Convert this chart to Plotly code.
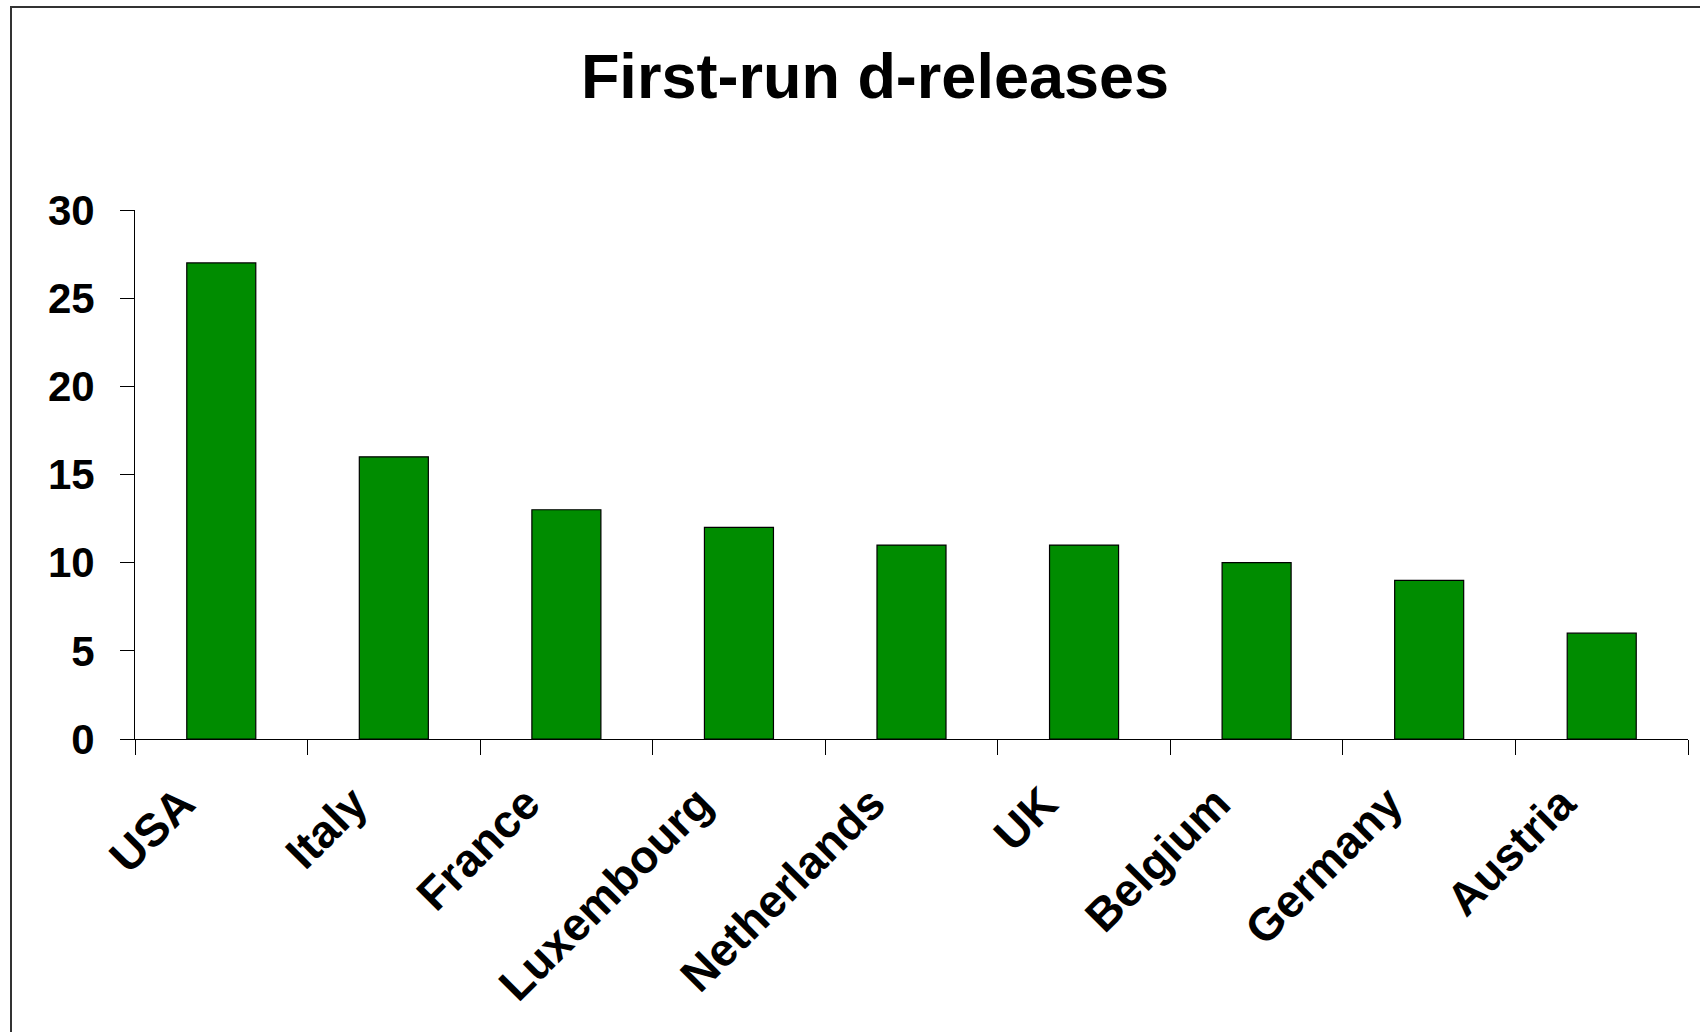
import plotly.graph_objects as go

categories = ["USA", "Italy", "France", "Luxembourg", "Netherlands", "UK", "Belgium", "Germany", "Austria"]
values = [27, 16, 13, 12, 11, 11, 10, 9, 6]
y_ticks = [0, 5, 10, 15, 20, 25, 30]
title_text = "First-run d-releases"

FONT = "Liberation Sans, Arial, sans-serif"

W, H = 1700, 1032
L, R, T, B = 135, 12, 210, 293
pw, ph = W - L - R, H - T - B

def px_x(x):
    return (x - L) / pw

def px_y(y):
    return (H - B - y) / ph

fig = go.Figure(go.Bar(
    x=categories, y=values,
    marker=dict(color="#008C00", line=dict(color="#000000", width=1.2)),
))

fig.update_layout(
    width=W, height=H,
    margin=dict(l=L, r=R, t=T, b=B),
    paper_bgcolor="white", plot_bgcolor="white",
    bargap=0.6,
    showlegend=False,
    title=dict(text="<b>" + title_text + "</b>", x=875 / W, xanchor="center",
               y=1 - 76 / H, yanchor="middle",
               font=dict(family=FONT, size=63, color="black")),
    font=dict(family=FONT, color="black"),
    shapes=[dict(type="rect", xref="paper", yref="paper",
                 x0=px_x(11), x1=px_x(1705), y0=px_y(1040), y1=px_y(7),
                 line=dict(color="#333333", width=2), fillcolor="rgba(0,0,0,0)", layer="below")],
)

fig.update_xaxes(
    type="category", range=[-0.5, len(categories) - 0.5],
    showline=True, linecolor="black", linewidth=1,
    ticks="outside", ticklen=15, tickcolor="black", tickwidth=1,
    tickson="boundaries", tickangle=-45,
    tickfont=dict(family=FONT, size=46, color="black", weight="bold"),
    ticklabelshift=-40, ticklabelstandoff=18,
    showgrid=False, zeroline=False,
)
fig.update_yaxes(
    range=[0, 30], tickvals=y_ticks,
    showline=True, linecolor="black", linewidth=1,
    ticks="outside", ticklen=14, tickcolor="black", tickwidth=1,
    tickfont=dict(family=FONT, size=42, color="black", weight="bold"),
    ticklabelstandoff=17,
    showgrid=False, zeroline=False,
)

fig.write_html("out.html")
